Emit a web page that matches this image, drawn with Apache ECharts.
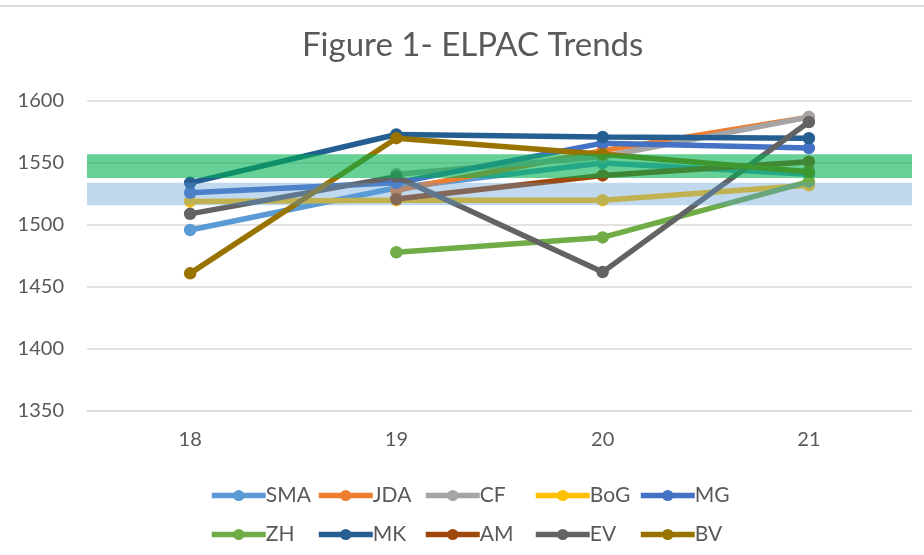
<!DOCTYPE html>
<html><head><meta charset="utf-8">
<script src="https://cdn.jsdelivr.net/npm/echarts@6/dist/echarts.min.js"></script>
<style>html,body{margin:0;padding:0;background:#fff}#c{width:924px;height:555px}</style>
</head><body><div id="c"></div>
<script>
// ---- data ----
const categories = ['18', '19', '20', '21'];
const SMA = [1496, 1530, 1550, 1541];
const JDA = [null, 1528, 1560, 1587];
const CF  = [null, 1541, 1555, 1587];
const BoG = [1519, 1520, 1520, 1532];
const MG  = [1526, 1534, 1566, 1562];
const ZH  = [null, 1478, 1490, 1535];
const MK  = [1534, 1573, 1571, 1570];
const AM  = [null, 1521, 1540, 1551];
const EV  = [1509, 1539, 1462, 1583];
const BV  = [1461, 1570, 1557, 1543];
const seriesNames = ['SMA', 'JDA', 'CF', 'BoG', 'MG', 'ZH', 'MK', 'AM', 'EV', 'BV'];
const seriesValues = [SMA, JDA, CF, BoG, MG, ZH, MK, AM, EV, BV];
const yMin = 1350, yMax = 1600, yStep = 50;
const greenBand = [1538, 1557];
const blueBand = [1516, 1534];

// ---- styles ----
const colors = ['#5B9BD5', '#ED7D31', '#A5A5A5', '#FFC000', '#4472C4',
                '#70AD47', '#255E91', '#9E480E', '#636363', '#997300'];
const FONT = 'Lato';
const TXT = '#595959';

const chart = echarts.init(document.getElementById('c'), null, {renderer: 'canvas'});

const series = seriesNames.map((n, i) => ({
  name: n,
  type: 'line',
  data: seriesValues[i],
  symbol: 'circle',
  symbolSize: 12.5,
  lineStyle: {width: 5.5, color: colors[i]},
  itemStyle: {color: colors[i]},
  z: 2 + i * 0.01
}));
series.push({
  name: 'bands',
  type: 'line',
  data: categories.map(() => null),
  symbol: 'none',
  silent: true,
  markArea: {
    silent: true,
    z: 10,
    data: [
      [{yAxis: greenBand[0], itemStyle: {color: 'rgba(0,176,80,0.6)'}}, {yAxis: greenBand[1]}],
      [{yAxis: blueBand[0], itemStyle: {color: 'rgba(91,155,213,0.38)'}}, {yAxis: blueBand[1]}]
    ]
  }
});

const columns = [['SMA', 'ZH'], ['JDA', 'MK'], ['CF', 'AM'], ['BoG', 'EV'], ['MG', 'BV']];
const colLeft = [209, 316, 423, 533, 638];
const legends = columns.map((d, i) => ({
  data: d,
  orient: 'vertical',
  left: colLeft[i],
  top: 485,
  itemWidth: 54,
  itemHeight: 14,
  itemGap: 18,
  padding: 0,
  selectedMode: false,
  lineStyle: {width: 5.5},
  textStyle: {fontFamily: FONT, fontSize: 21, color: TXT, padding: [0, 0, 0, -5]}
}));

chart.setOption({
  animation: false,
  backgroundColor: '#ffffff',
  color: colors,
  title: {
    text: 'Figure 1- ELPAC Trends',
    left: 302,
    top: 29,
    padding: 0,
    textStyle: {fontFamily: FONT, fontSize: 33, fontWeight: 'normal', color: TXT}
  },
  legend: legends,
  grid: {left: 87, right: 12, top: 101, bottom: 144, containLabel: false},
  xAxis: {
    type: 'category',
    data: categories,
    boundaryGap: true,
    axisLine: {show: true, lineStyle: {color: '#d9d9d9', width: 1.5}},
    axisTick: {show: false},
    axisLabel: {fontFamily: FONT, fontSize: 20, color: TXT, margin: 19}
  },
  yAxis: {
    type: 'value',
    min: yMin, max: yMax, interval: yStep,
    axisLine: {show: false},
    axisTick: {show: false},
    splitLine: {lineStyle: {color: '#d9d9d9', width: 1.5}},
    axisLabel: {fontFamily: FONT, fontSize: 20, color: TXT, margin: 23,
                formatter: v => String(v)}
  },
  graphic: [{
    type: 'line', shape: {x1: 0, y1: 6, x2: 924, y2: 6},
    style: {stroke: '#dcdcdc', lineWidth: 2}, silent: true
  }],
  series: series
});
</script></body></html>
